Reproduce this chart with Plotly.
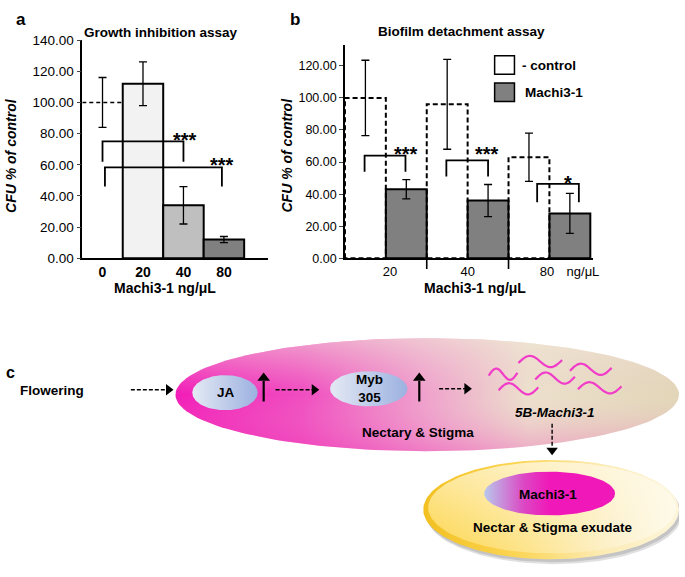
import numpy as np
import plotly.graph_objects as go

# ---------------- data ----------------
conc_a = ['0', '20', '40', '80']
growth_mean = [100, 112, 34, 12]
growth_err = [16, 14, 12, 2]
bar_colors_a = ['white', '#f2f2f2', '#bfbfbf', '#808080']

groups_b = ['20', '40', '80']
control_mean = [100, 96, 63]
control_err = [23.5, 28, 15]
machi_mean = [43, 36, 28]
machi_err = [6, 10, 12.5]

# significance brackets: (x0, x1, top, leg, label, label_x, label_y)
brackets_a = [(0.0, 2.0, 75, 62, '***', 2.05, 79), (0.06, 2.95, 58.4, 46, '***', 2.95, 63)]
brackets_b = [(-0.26, 0.24, 64, 54, '***', 0.25, 68), (0.74, 1.25, 61, 51, '***', 1.24, 68),
              (1.85, 2.36, 46.4, 35, '*', 2.23, 50)]

W, H = 685, 577
FONT = 'Liberation Sans, Arial, sans-serif'


def px(x):
    return x / W


def py(y):
    return 1 - y / H


fig = go.Figure()

# ---------------- panel a ----------------
fig.add_trace(go.Bar(x=[1, 2, 3], y=growth_mean[1:], width=1.0,
                     marker=dict(color=bar_colors_a[1:], line=dict(color='black', width=2)),
                     error_y=dict(type='data', array=growth_err[1:], color='black', thickness=1.3, width=4),
                     xaxis='x', yaxis='y', showlegend=False))
fig.add_trace(go.Scatter(x=[-0.5, 0.5], y=[growth_mean[0]] * 2, mode='lines',
                         line=dict(color='black', width=1.5, dash='4px,3px'),
                         xaxis='x', yaxis='y', showlegend=False))
fig.add_trace(go.Scatter(x=[0], y=[growth_mean[0]], mode='markers',
                         marker=dict(size=1, color='rgba(0,0,0,0)'),
                         error_y=dict(type='data', array=[growth_err[0]], color='black', thickness=1.3, width=4),
                         xaxis='x', yaxis='y', showlegend=False))

# ---------------- panel b ----------------
g = np.arange(len(groups_b))
fig.add_trace(go.Bar(x=g - 0.25, y=control_mean, width=0.5,
                     marker=dict(color='white', line=dict(width=0)),
                     error_y=dict(type='data', array=control_err, color='black', thickness=1.3, width=4),
                     xaxis='x2', yaxis='y2', showlegend=False))
ox, oy = [], []
for gi, v in zip(g, control_mean):
    ox += [gi - 0.5, gi - 0.5, gi, gi, gi - 0.5, None]
    oy += [0, v, v, 0, 0, None]
fig.add_trace(go.Scatter(x=ox, y=oy, mode='lines', line=dict(color='black', width=2, dash='5px,3px'),
                         xaxis='x2', yaxis='y2', showlegend=False))
fig.add_trace(go.Bar(x=g + 0.25, y=machi_mean, width=0.5,
                     marker=dict(color='#808080', line=dict(color='black', width=2)),
                     error_y=dict(type='data', array=machi_err, color='black', thickness=1.3, width=4),
                     xaxis='x2', yaxis='y2', showlegend=False))

annotations = []


def add_brackets(brs, xa, ya):
    bx, by = [], []
    for x0, x1, top, leg, lab, lx, ly in brs:
        bx += [x0, x0, x1, x1, None]
        by += [leg, top, top, leg, None]
        annotations.append(dict(x=lx, y=ly, xref=xa, yref=ya, text=lab, showarrow=False,
                                xanchor='center', yanchor='middle',
                                yshift=-5, font=dict(family=FONT, size=20, color='black', weight='bold')))
    fig.add_trace(go.Scatter(x=bx, y=by, mode='lines', line=dict(color='black', width=1.8),
                             xaxis=xa, yaxis=ya, showlegend=False))


add_brackets(brackets_a, 'x', 'y')
add_brackets(brackets_b, 'x2', 'y2')

# ---------------- panel c diagram ----------------
t = np.linspace(0, 2 * np.pi, 160)


def ellipse(cx, cy, rx, ry, **kw):
    fig.add_trace(go.Scatter(x=cx + rx * np.cos(t), y=cy + ry * np.sin(t), mode='lines',
                             line=dict(width=0), fill='toself', hoverinfo='skip',
                             xaxis='x3', yaxis='y3', showlegend=False, **kw))


# big nectary ellipse
ellipse(431, 398, 254, 58, fillgradient=dict(type='horizontal', colorscale=[
    [0, '#f21cb8'], [0.25, '#f04cc0'], [0.5, '#efa2cc'], [0.7, '#ece0cc'], [1, '#e2d6b8']]))
ellipse(431, 398, 254, 58, fillgradient=dict(type='vertical', colorscale=[
    [0, 'rgba(240,40,180,0.30)'], [0.5, 'rgba(240,200,210,0.0)'], [1, 'rgba(240,232,215,0.55)']]))
# JA and Myb
blue = [[0, '#e4e9f4'], [1, '#9cb1e0']]
ellipse(227, 396, 33, 18, fillgradient=dict(type='horizontal', colorscale=blue))
ellipse(372, 392, 39, 18, fillgradient=dict(type='horizontal', colorscale=blue))

# squiggles (mRNA)
sq = [(493, 522, 377), (523, 567, 364), (575, 617, 372), (503, 543, 392), (540, 580, 381), (583, 627, 391)]
s = np.linspace(0, 1, 40)
qx, qy = [], []
for x0, x1, cy in sq:
    qx += list(x0 + (x1 - x0) * s) + [None]
    qy += list(cy - 6.5 * np.sin(2 * np.pi * s) + 3 * (0.5 - s)) + [None]
fig.add_trace(go.Scatter(x=qx, y=qy, mode='lines', line=dict(color='#f03cc8', width=2.2, shape='spline'),
                         xaxis='x3', yaxis='y3', showlegend=False, hoverinfo='skip'))

# bottom plate
ellipse(559, 521, 129, 51, fillcolor='rgba(0,0,0,0.12)')
ellipse(558, 519, 129, 51, fillcolor='rgba(0,0,0,0.12)')
ellipse(556, 516, 129, 51, fillgradient=dict(type='horizontal', colorscale=[
    [0, '#f2c020'], [0.35, '#fbd452'], [0.7, '#fcebb4'], [1, '#fdf6dc']]))
ellipse(557, 514, 125, 47, fillgradient=dict(type='horizontal', colorscale=[
    [0, '#fcd448'], [0.4, '#fde48c'], [0.75, '#fdf1cc'], [1, '#fefaea']]))
ellipse(557, 514, 125, 47, fillgradient=dict(type='vertical', colorscale=[
    [0, 'rgba(255,250,230,0.0)'], [1, 'rgba(255,250,235,0.6)']]))
ellipse(554.5, 499.5, 66, 22.5, fillgradient=dict(type='horizontal', colorscale=[
    [0, '#b8c8ec'], [0.3, '#dc48c4'], [0.5, '#f018b8'], [1, '#f018b8']]))

# arrows
dash_lines = [((132, 393), (168, 393)), ((278, 393), (315, 393)), ((443, 392), (469, 392)), ((557, 428), (557, 452))]
for (x0, y0), (x1, y1) in dash_lines:
    fig.add_trace(go.Scatter(x=[x0, x1], y=[y0, y1], mode='lines',
                             line=dict(color='black', width=1.4, dash='4px,2px'),
                             xaxis='x3', yaxis='y3', showlegend=False, hoverinfo='skip'))
fig.add_trace(go.Scatter(x=[170, 317, 471], y=[393, 393, 392], mode='markers',
                         marker=dict(symbol='triangle-right', size=10, color='black'),
                         xaxis='x3', yaxis='y3', showlegend=False, hoverinfo='skip'))
fig.add_trace(go.Scatter(x=[557], y=[455], mode='markers',
                         marker=dict(symbol='triangle-down', size=10, color='black'),
                         xaxis='x3', yaxis='y3', showlegend=False, hoverinfo='skip'))
for ax_ in [266, 423]:
    fig.add_trace(go.Scatter(x=[ax_, ax_], y=[405, 384], mode='lines', line=dict(color='black', width=2.2),
                             xaxis='x3', yaxis='y3', showlegend=False, hoverinfo='skip'))
fig.add_trace(go.Scatter(x=[266, 423], y=[381, 381], mode='markers',
                         marker=dict(symbol='triangle-up', size=11, color='black'),
                         xaxis='x3', yaxis='y3', showlegend=False, hoverinfo='skip'))


def txt(x, y, text, size=13.5, bold=True, italic=False, angle=0, ref='paper', xanchor='center'):
    if ref == 'paper':
        d = dict(x=px(x), y=py(y), xref='paper', yref='paper')
    else:
        d = dict(x=x, y=y, xref='x3', yref='y3')
    d.update(text=text, showarrow=False, textangle=angle, xanchor=xanchor, yanchor='middle',
             font=dict(family=FONT, size=size, color='black', weight='bold' if bold else 'normal',
                       style='italic' if italic else 'normal'))
    annotations.append(d)


# panel labels and titles
txt(21, 13, 'a', size=17)
txt(298, 13, 'b', size=17)
txt(11, 375, 'c', size=16)
txt(162, 26, 'Growth inhibition assay', size=13.5)
txt(466, 25, 'Biofilm detachment assay', size=13.5)
txt(11, 152, 'CFU % of control', size=14, italic=True, angle=-90)
txt(290, 152, 'CFU % of control', size=14, italic=True, angle=-90)
txt(166, 289, 'Machi3-1 ng/μL', size=14)
txt(479, 289, 'Machi3-1 ng/μL', size=14)

# legend for panel b
txt(525, 60, '- control', size=13.5, xanchor='left')
txt(528, 88, 'Machi3-1', size=13.5, xanchor='left')

# diagram text
txt(52, 394, 'Flowering', ref='x3')
txt(228, 396, 'JA', ref='x3')
txt(373, 392, 'Myb<br>305', ref='x3')
txt(422, 437, 'Nectary & Stigma', ref='x3')
txt(560, 416, '5B-Machi3-1', ref='x3', italic=True)
txt(553, 501, 'Machi3-1', ref='x3')
txt(558, 534, 'Nectar & Stigma exudate', ref='x3')

shapes = [
    dict(type='rect', xref='paper', yref='paper', x0=px(499), x1=px(519), y0=py(69), y1=py(50),
         line=dict(color='black', width=1.5), fillcolor='white'),
    dict(type='rect', xref='paper', yref='paper', x0=px(499), x1=px(519), y0=py(97), y1=py(78),
         line=dict(color='black', width=1.5), fillcolor='#808080'),
]
for sx in [0.5, 1.5]:
    shapes.append(dict(type='line', xref='x2', yref='paper', x0=sx, x1=sx, y0=py(256), y1=py(269),
                       line=dict(color='black', width=1.6)))

axis_common = dict(showgrid=False, zeroline=False, showline=True, linecolor='black', linewidth=1.5,
                   fixedrange=True)

fig.update_layout(
    width=W, height=H, margin=dict(l=0, r=0, t=0, b=0),
    paper_bgcolor='white', plot_bgcolor='rgba(0,0,0,0)',
    barmode='overlay', showlegend=False,
    font=dict(family=FONT, color='black'),
    xaxis=dict(domain=[px(83), px(270)], range=[-0.5, 4.08], anchor='y', tickvals=[0, 1, 2, 3],
               ticktext=conc_a, ticks='', tickfont=dict(family=FONT, size=14, weight='bold'),
               **axis_common),
    yaxis=dict(domain=[py(258), py(34)], range=[0, 140], anchor='x', dtick=20, tickformat='.2f',
               ticks='outside', ticklen=4, tickwidth=1.3, tickfont=dict(family=FONT, size=13.5),
               **axis_common),
    xaxis2=dict(domain=[px(348), px(598)], range=[-0.5, 2.53], anchor='y2', tickvals=[0.05, 1.0, 1.97, 2.41],
                ticktext=groups_b + ['ng/μL'], ticks='', tickfont=dict(family=FONT, size=13),
                **axis_common),
    yaxis2=dict(domain=[py(258), py(39)], range=[0, 133], anchor='x2', dtick=20, tickformat='.2f',
                ticks='outside', ticklen=4, tickwidth=1.3, tickfont=dict(family=FONT, size=12.5),
                **axis_common),
    xaxis3=dict(domain=[0, 1], range=[0, W], anchor='y3', visible=False, fixedrange=True),
    yaxis3=dict(domain=[0, 1], range=[H, 0], anchor='x3', visible=False, fixedrange=True),
    annotations=annotations, shapes=shapes,
)

fig.write_html('out.html', config={'displayModeBar': False},
               post_script="document.body.style.margin='0px';")
